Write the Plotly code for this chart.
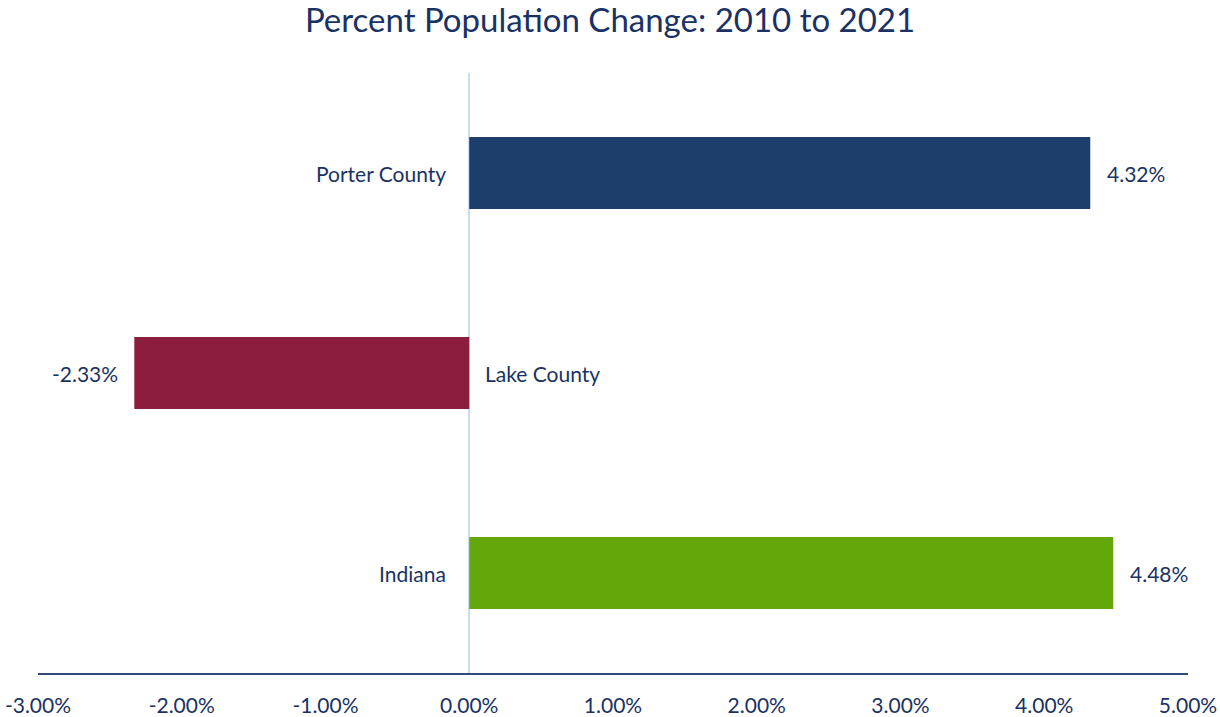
import plotly.graph_objects as go

# Percent population change, 2010 to 2021
regions = ["Porter County", "Lake County", "Indiana"]
pct_change = [4.32, -2.33, 4.48]
bar_colors = ["#1D3D6B", "#8B1E3F", "#63A70A"]
tick_vals = [-3, -2, -1, 0, 1, 2, 3, 4, 5]
tick_text = ["-3.00%", "-2.00%", "-1.00%", "0.00%", "1.00%", "2.00%", "3.00%", "4.00%", "5.00%"]

text_color = "#1A3263"
font_family = "Lato, 'Open Sans', sans-serif"
label_size = 21

fig = go.Figure()
fig.add_trace(go.Bar(
    y=regions,
    x=pct_change,
    orientation="h",
    marker=dict(color=bar_colors, line=dict(width=0)),
    width=0.36,
    hoverinfo="skip",
))

# value labels at the bar ends, region names beside the zero line
for name, v in zip(regions, pct_change):
    fig.add_annotation(
        x=v, y=name, xref="x", yref="y",
        text=f"{v:.2f}%", showarrow=False,
        xanchor="left" if v >= 0 else "right",
        xshift=15 if v >= 0 else -14,
        font=dict(size=label_size, color=text_color, family=font_family),
    )
    fig.add_annotation(
        x=0, y=name, xref="x", yref="y",
        text=name, showarrow=False,
        xanchor="right" if v >= 0 else "left",
        xshift=-21 if v >= 0 else 14,
        font=dict(size=label_size, color=text_color, family=font_family),
    )

fig.update_layout(
    width=1220, height=717,
    margin=dict(l=38, r=32, t=73, b=44),
    paper_bgcolor="white",
    plot_bgcolor="white",
    showlegend=False,
    title=dict(
        text="Percent Population Change: 2010 to 2021",
        x=0.5, xanchor="center", y=0.971, yanchor="middle",
        font=dict(size=33, color=text_color, family=font_family),
    ),
    xaxis=dict(
        range=[-3, 5],
        tickvals=tick_vals, ticktext=tick_text,
        showgrid=False,
        zeroline=True, zerolinecolor="#CCDCF0", zerolinewidth=1.5,
        showline=True, linecolor="#2E4A78", linewidth=2,
        ticks="", ticklabelstandoff=13,
        tickfont=dict(size=label_size, color=text_color, family=font_family),
        automargin=False,
        fixedrange=True,
    ),
    yaxis=dict(
        categoryorder="array", categoryarray=regions[::-1],
        range=[-0.5, 2.5],
        showticklabels=False, showgrid=False, zeroline=False,
        showline=False, ticks="",
        automargin=False,
        fixedrange=True,
    ),
)

fig.write_html("out.html")
